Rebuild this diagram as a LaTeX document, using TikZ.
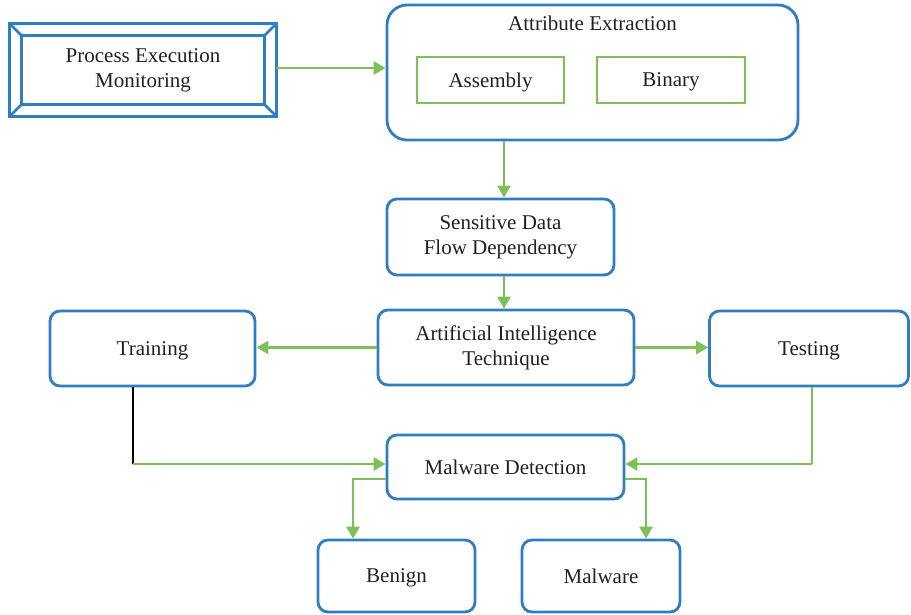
\documentclass[tikz,border=0pt]{standalone}
\usepackage{fontspec}
\setmainfont{Liberation Serif}
\usetikzlibrary{arrows.meta}
\definecolor{boxblue}{RGB}{46,126,193}
\definecolor{flowgreen}{RGB}{126,192,88}
\definecolor{txtgray}{RGB}{35,31,32}
\tikzset{
  block/.style={draw=boxblue, line width=2.8pt, rounded corners=10pt, align=center, text=txtgray},
  oneline/.style={text depth=0pt},
  subbox/.style={draw=flowgreen, line width=2.6pt, align=center, text=txtgray},
  flow/.style={draw=flowgreen, line width=2.8pt, -{Triangle[length=12pt,width=13pt]}},
  bevel/.style={draw=boxblue, line width=2.8pt, line join=miter}
}
\begin{document}
\begin{tikzpicture}[x=1pt, y=-1pt, font=\fontsize{21}{25}\selectfont]
    \useasboundingbox (0,0) rectangle (911,614);
    % Process execution monitoring (bevelled frame)
    \node[minimum width=266pt, minimum height=92pt, align=center, text=txtgray] (pem) at (143,70) {Process Execution\\Monitoring};
    \draw[bevel] (pem.north west) rectangle (pem.south east);
    \draw[bevel] ([shift={(12,12)}]pem.north west) rectangle ([shift={(-12,-12)}]pem.south east);
    \draw[bevel] (pem.north west) -- +(12,12);
    \draw[bevel] (pem.north east) -- +(-12,12);
    \draw[bevel] (pem.south west) -- +(12,-12);
    \draw[bevel] (pem.south east) -- +(-12,-12);
    % Attribute extraction with its two parts
    \node[block, rounded corners=20pt, minimum width=411pt, minimum height=135pt] (ae) at (592.5,72.5) {};
    \node[text=txtgray] (aetitle) at (592.5,23) {Attribute Extraction};
    \node[subbox, oneline, minimum width=147pt, minimum height=46pt] (asm) at (490.5,80) {Assembly};
    \node[subbox, oneline, minimum width=148pt, minimum height=46pt] (bin) at (671,80) {Binary};
    % Middle column
    \node[block, minimum width=227pt, minimum height=76pt] (sdf) at (500.5,237) {Sensitive Data\\Flow Dependency};
    \node[block, minimum width=256pt, minimum height=75pt] (ait) at (506,347.5) {Artificial Intelligence\\Technique};
    \node[block, oneline, minimum width=205pt, minimum height=75pt] (trn) at (152.5,348.5) {Training};
    \node[block, oneline, minimum width=199pt, minimum height=75pt] (tst) at (809,348.5) {Testing};
    \node[block, minimum width=237pt, minimum height=64pt] (mwd) at (505.5,467) {Malware Detection};
    % Results
    \node[block, oneline, minimum width=157pt, minimum height=72pt] (ben) at (396.5,576) {Benign};
    \node[block, oneline, minimum width=158pt, minimum height=72pt] (mal) at (601,576) {Malware};
    % Connectors
    \draw[flow] (pem.east |- 0,68) -- (ae.west |- 0,68);
    \draw[flow] (ae.south -| 504,0) -- (sdf.north -| 504,0);
    \draw[flow] (sdf.south -| 504,0) -- (ait.north -| 504,0);
    \draw[flow] (ait.west) -- (ait.west -| trn.east);
    \draw[flow] (ait.east) -- (ait.east -| tst.west);
    \coordinate (trnturn) at (133,464);
    \draw[line width=2.6pt, black] (trn.south -| trnturn) -- (trnturn);
    \draw[flow] (trnturn) -- (trnturn -| mwd.west);
    \coordinate (tstturn) at (812,464);
    \draw[draw=flowgreen, line width=2.8pt] (tst.south -| tstturn) -- (tstturn);
    \draw[flow] (tstturn) -- (tstturn -| mwd.east);
    \draw[flow] ([yshift=-12pt]mwd.west) -| ([xshift=-43.5pt]ben.north);
    \draw[flow] ([yshift=-12pt]mwd.east) -| ([xshift=45pt]mal.north);
\end{tikzpicture}
\end{document}
